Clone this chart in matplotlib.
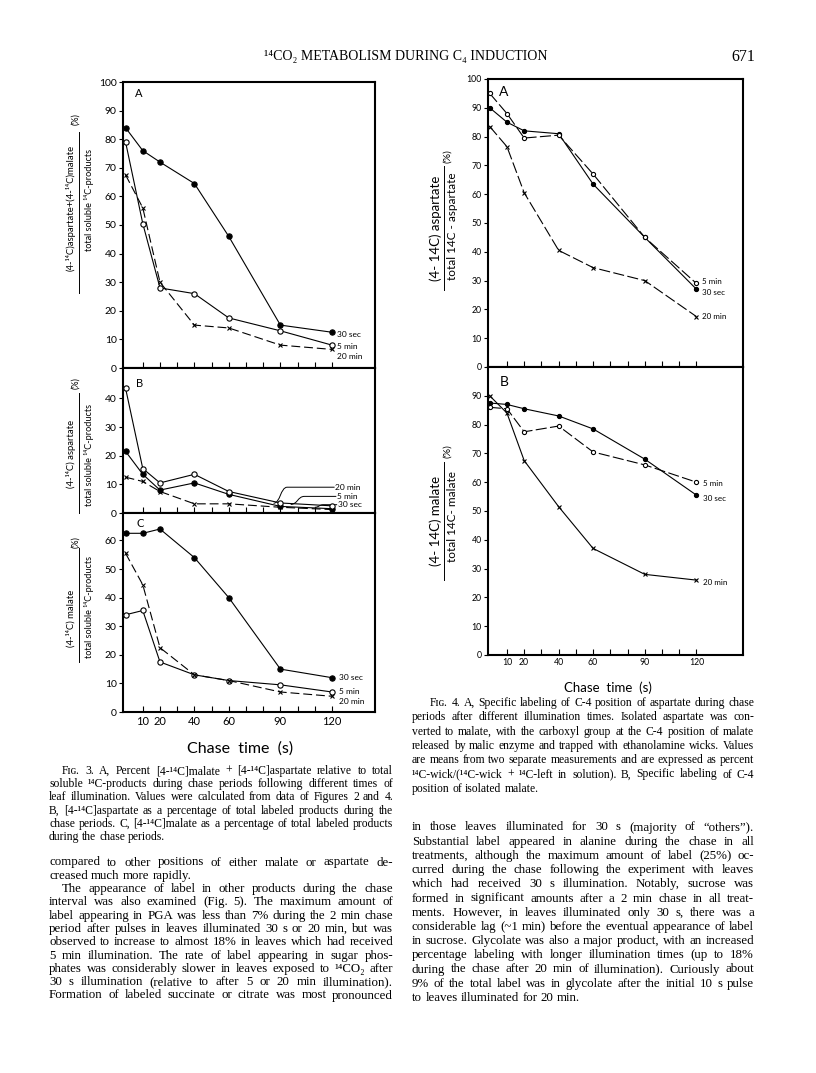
import matplotlib
matplotlib.use('Agg')
import matplotlib.pyplot as plt
from matplotlib.lines import Line2D
from matplotlib.path import Path
from matplotlib.patches import PathPatch

W, H = 816, 1073
SANS = ['Lato', 'DejaVu Sans']
SERIF = ['Liberation Serif', 'DejaVu Serif']

# chase times (s)
chase = [0, 10, 20, 40, 60, 90, 120]

# Fig. 3 A: (4-14C)asp + (4-14C)malate / total soluble 14C-products (%)
f3a_30s = [84, 76, 72, 64.5, 46, 15, 12.5]
f3a_5m = [79, 50.5, 28, 26, 17.5, 13, 8]
f3a_20m = [67.5, 56, 30, 15, 14, 8, 6.5]
# Fig. 3 B: (4-14C) aspartate
f3b_30s = [21.5, 13.5, 8, 10.5, 6.5, 2.3, 1.5]
f3b_5m = [43.5, 15.5, 10.5, 13.5, 7.5, 3.5, 2.5]
f3b_20m = [12.5, 11, 7.5, 3.2, 3.2, 2, 1.2]
# Fig. 3 C: (4-14C) malate
f3c_30s = [62.5, 62.5, 64, 54, 40, 15, 12]
f3c_5m = [34, 35.5, 17.5, 13, 11, 9.5, 7]
f3c_20m = [55.5, 44.5, 22.5, 13, 11, 7, 5.5]

# Fig. 4 A: specific labelling of C-4 of aspartate
f4a_30s = [90, 85, 82, 81, 63.5, 45, 27]
f4a_5m = [95, 88, 79.5, 80.5, 67, 45, 29]
f4a_20m = [83.5, 76.5, 60.5, 40.5, 34.5, 30, 17.5]
# Fig. 4 B: specific labelling of C-4 of malate
f4b_30s = [87.5, 87, 85.5, 83, 78.5, 68, 55.5]
f4b_5m = [86, 85.5, 77.5, 79.5, 70.5, 66, 60]
f4b_20m = [90, 84, 67.5, 51.5, 37, 28, 26]

x_labels = [10, 20, 40, 60, 90, 120]

header = '¹⁴CO₂ METABOLISM DURING C₄ INDUCTION'
page_no = '671'

cap3 = ['\tFɪɢ. 3. A, Percent [4-¹⁴C]malate + [4-¹⁴C]aspartate relative to total',
        'soluble ¹⁴C-products during chase periods following different times of',
        'leaf illumination. Values were calculated from data of Figures 2 and 4.',
        'B, [4-¹⁴C]aspartate as a percentage of total labeled products during the',
        'chase periods. C, [4-¹⁴C]malate as a percentage of total labeled products',
        'during the chase periods.']
body_left = ['compared to other positions of either malate or aspartate de-',
             'creased much more rapidly.',
             '\tThe appearance of label in other products during the chase',
             'interval was also examined (Fig. 5). The maximum amount of',
             'label appearing in PGA was less than 7% during the 2 min chase',
             'period after pulses in leaves illuminated 30 s or 20 min, but was',
             'observed to increase to almost 18% in leaves which had received',
             '5 min illumination. The rate of label appearing in sugar phos-',
             'phates was considerably slower in leaves exposed to ¹⁴CO₂ after',
             '30 s illumination (relative to after 5 or 20 min illumination).',
             'Formation of labeled succinate or citrate was most pronounced']
cap4 = ['\tFɪɢ. 4. A, Specific labeling of C-4 position of aspartate during chase',
        'periods after different illumination times. Isolated aspartate was con-',
        'verted to malate, with the carboxyl group at the C-4 position of malate',
        'released by malic enzyme and trapped with ethanolamine wicks. Values',
        'are means from two separate measurements and are expressed as percent',
        '¹⁴C-wick/(¹⁴C-wick + ¹⁴C-left in solution). B, Specific labeling of C-4',
        'position of isolated malate.']
body_right = ['in those leaves illuminated for 30 s (majority of “others”).',
              'Substantial label appeared in alanine during the chase in all',
              'treatments, although the maximum amount of label (25%) oc-',
              'curred during the chase following the experiment with leaves',
              'which had received 30 s illumination. Notably, sucrose was',
              'formed in significant amounts after a 2 min chase in all treat-',
              'ments. However, in leaves illuminated only 30 s, there was a',
              'considerable lag (~1 min) before the eventual appearance of label',
              'in sucrose. Glycolate was also a major product, with an increased',
              'percentage labeling with longer illumination times (up to 18%',
              'during the chase after 20 min of illumination). Curiously about',
              '9% of the total label was in glycolate after the initial 10 s pulse',
              'to leaves illuminated for 20 min.']

fig = plt.figure(figsize=(W / 100, H / 100), dpi=100)
R = fig.canvas.get_renderer()


def fx(x):
    return x / W


def fy(y):
    return 1 - y / H


def box(l, t, r, b):
    return fig.add_axes([fx(l), fy(b), (r - l) / W, (b - t) / H])


def style(ax, ylim, yticks, xlim, lsize):
    ax.set_xlim(*xlim)
    ax.set_ylim(*ylim)
    for s in ax.spines.values():
        s.set_linewidth(1.5)
    ax.set_yticks(yticks)
    ax.set_xticks(range(10, 130, 10))
    ax.tick_params(axis='y', direction='out', length=3, width=0.8, pad=1.5,
                   labelsize=lsize)
    ax.tick_params(axis='x', direction='in', length=4, width=0.8,
                   labelbottom=False)
    for t in ax.get_xticklabels() + ax.get_yticklabels():
        t.set_family(SANS)


def series(ax, y, fill, ls, marker='o', ms=3.8):
    ax.plot(chase, y, color='k', lw=0.8, ls=ls, marker=marker, ms=ms,
            mfc='k' if fill else 'white', mec='k', mew=0.8, clip_on=False,
            zorder=3)


def leader(ax, x0, y0, x1, y1, bend=4):
    verts = [(x0, y0), (x0 + bend, y0), (x0 + bend, y1), (x0 + 2 * bend, y1), (x1, y1)]
    codes = [Path.MOVETO, Path.CURVE4, Path.CURVE4, Path.CURVE4, Path.LINETO]
    ax.add_patch(PathPatch(Path(verts, codes), fill=False, lw=0.7, color='k'))


def frac(num, den, xn, yn, xd, yd, xl, yt, yb, xp, yp, nsize, dsize, psize):
    fig.text(fx(xn), fy(yn), num, rotation=90, ha='center', va='center',
             fontsize=nsize, family=SANS)
    fig.text(fx(xd), fy(yd), den, rotation=90, ha='center', va='center',
             fontsize=dsize, family=SANS)
    fig.add_artist(Line2D([fx(xl)] * 2, [fy(yt), fy(yb)], color='k', lw=0.7))
    fig.text(fx(xp), fy(yp), '(%)', rotation=90, ha='center', va='center',
             fontsize=psize, family=SANS)


def width(s, size):
    t = fig.text(0, 0, s, fontsize=size, family=SERIF)
    w = t.get_window_extent(renderer=R).width
    t.remove()
    return w


def fit_size(lines, x0, x1, indent, ragged, fill=0.985):
    # font size at which the longest justified line just fills the column
    best = 99
    for i, l in enumerate(lines):
        if i in ragged:
            continue
        ind = indent if l.startswith('\t') else 0
        best = min(best, 10 * (x1 - x0 - ind) * fill / width(l.lstrip('\t'), 10))
    return best


def block(lines, x0, x1, y0, dy, size, indent, ragged):
    space = width('a a', size) - width('aa', size)
    for i, l in enumerate(lines):
        x = x0
        if l.startswith('\t'):
            x += indent
            l = l[1:]
        words = l.split(' ')
        ws = [width(w, size) for w in words]
        if i in ragged or len(words) == 1:
            gap = space
        else:
            gap = max((x1 - x - sum(ws)) / (len(words) - 1), 0.5 * space)
        yb = y0 + i * dy
        for w, wd in zip(words, ws):
            fig.text(fx(x), fy(yb), w, fontsize=size, family=SERIF, va='baseline')
            x += wd + gap


# ---------------- Fig. 3 ----------------
X3 = (-1.5, 145)
a3 = box(123, 82, 375, 368)
b3 = box(123, 368, 375, 513)
c3 = box(123, 513, 375, 712)
style(a3, (0, 100), range(0, 101, 10), X3, 7.5)
style(b3, (0, 50.6), range(0, 41, 10), X3, 7.5)
style(c3, (0, 69.6), range(0, 61, 10), X3, 7.5)

dash3 = (0, (8, 3.5))
for ax, s30, s5, s20 in ((a3, f3a_30s, f3a_5m, f3a_20m),
                         (b3, f3b_30s, f3b_5m, f3b_20m),
                         (c3, f3c_30s, f3c_5m, f3c_20m)):
    series(ax, s30, True, '-')
    series(ax, s5, False, '-')
    series(ax, s20, True, dash3, marker='x', ms=3.5)

c3.set_xticklabels([str(v) if v in x_labels else '' for v in range(10, 130, 10)],
                   family=SANS)
c3.tick_params(axis='x', labelbottom=True, labelsize=8, pad=3)

lab = dict(fontsize=6, family=SANS, va='center', ha='left')
a3.text(123, 11.8, '30 sec', **lab)
a3.text(123, 7.4, '5 min', **lab)
a3.text(123, 3.9, '20 min', **lab)
c3.text(124, 12.0, '30 sec', **lab)
c3.text(124, 7.3, '5 min', **lab)
c3.text(124, 3.8, '20 min', **lab)
b3.text(122, 9.0, '20 min', **lab)
b3.text(123, 5.8, '5 min', **lab)
b3.text(123.5, 2.9, '30 sec', **lab)
leader(b3, 86, 3.4, 121.5, 9.0)
leader(b3, 96, 3.0, 122.5, 5.8)
leader(b3, 110, 2.0, 123, 2.9, bend=2.5)

let = dict(fontsize=8, family=SANS, ha='center', va='center')
a3.text(7.5, 96, 'A', **let)
b3.text(8, 45.3, 'B', **let)
c3.text(8.7, 66, 'C', **let)

frac('(4-¹⁴C)aspartate+(4-¹⁴C)malate', 'total soluble ¹⁴C-products',
     71, 208, 89, 200, 79, 132, 293, 76, 119, 6.8, 6.6, 6.5)
frac('(4-¹⁴C) aspartate', 'total soluble ¹⁴C-products',
     71, 454, 89, 455, 79, 393, 513, 76, 383, 6.8, 6.6, 6.5)
frac('(4-¹⁴C) malate', 'total soluble ¹⁴C-products',
     71, 618, 89, 607, 79, 548, 662, 76, 542, 6.8, 6.6, 6.5)
fig.text(fx(240), fy(749), 'Chase  time  (s)', fontsize=11.5, family=SANS,
         ha='center', va='center')

# ---------------- Fig. 4 ----------------
X4 = (-1, 147)
a4 = box(488, 79, 743, 367)
b4 = box(488, 367, 743, 655)
style(a4, (0, 100), range(0, 101, 10), X4, 6.3)
style(b4, (0, 100), range(0, 91, 10), X4, 6.3)

dash4 = (0, (10, 3))
series(a4, f4a_30s, True, '-', ms=3)
series(a4, f4a_5m, False, dash4, ms=3)
series(a4, f4a_20m, True, dash4, marker='x', ms=2.8)
series(b4, f4b_30s, True, '-', ms=3)
series(b4, f4b_5m, False, dash4, ms=3)
series(b4, f4b_20m, True, '-', marker='x', ms=2.8)

b4.set_xticklabels([str(v) if v in x_labels else '' for v in range(10, 130, 10)],
                   family=SANS)
b4.tick_params(axis='x', labelbottom=True, labelsize=6.3, pad=2.5)

lab4 = dict(fontsize=5.8, family=SANS, va='center', ha='left')
a4.text(123, 29.6, '5 min', **lab4)
a4.text(123, 25.9, '30 sec', **lab4)
a4.text(123, 17.4, '20 min', **lab4)
b4.text(124, 59.7, '5 min', **lab4)
b4.text(124, 54.5, '30 sec', **lab4)
b4.text(124, 25.3, '20 min', **lab4)

a4.text(8, 95.5, 'A', fontsize=10, family=SANS, ha='center', va='center')
b4.text(8.7, 94.8, 'B', fontsize=10, family=SANS, ha='center', va='center')

frac('(4- 14C) aspartate', 'total 14C - aspartate',
     436, 228, 452, 226, 444.5, 166, 290, 448, 156, 9.5, 8.5, 7.5)
frac('(4- 14C) malate', 'total 14C- malate',
     436, 521, 452, 517, 444.5, 462, 580, 448, 451, 9.5, 8.5, 7.5)
fig.text(fx(608), fy(688), 'Chase  time  (s)', fontsize=9.5, family=SANS,
         ha='center', va='center')

# ---------------- page text ----------------
fig.text(fx(547), fy(60), header, fontsize=10, family=SERIF, ha='right',
         va='baseline')
fig.text(fx(755), fy(61), page_no, fontsize=11.5, family=SERIF, ha='right',
         va='baseline')

body_size = fit_size(body_right, 412, 754, 13, {12})
cap_size = fit_size(cap4, 412, 754, 18, {6})
block(cap3, 49, 393, 774, 13.2, cap_size, 13, {5})
block(body_left, 49, 393, 865.5, 13.3, body_size, 13, {1})
block(cap4, 412, 754, 706, 14.3, cap_size, 18, {6})
block(body_right, 412, 754, 830.5, 14.2, body_size, 13, {12})

fig.savefig('out.png', dpi=100, facecolor='white')
